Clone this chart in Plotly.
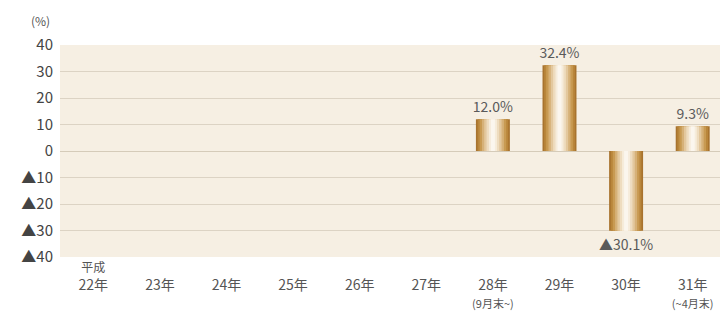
import plotly.graph_objects as go

categories = ["22", "23", "24", "25", "26", "27", "28", "29", "30", "31"]
tick_labels = ["<span style='font-size:12px'>平成</span><br>22年<br> ", " <br>23年<br> ", " <br>24年<br> ", " <br>25年<br> ",
               " <br>26年<br> ", " <br>27年<br> ",
               " <br>28年<br><span style='font-size:11px'>(9月末~)</span>",
               " <br>29年<br> ", " <br>30年<br> ",
               " <br>31年<br><span style='font-size:11px'>(~4月末)</span>"]
values = [None, None, None, None, None, None, 12.0, 32.4, -30.1, 9.3]
y_ticks = [40, 30, 20, 10, 0, -10, -20, -30, -40]
y_tick_text = ["40", "30", "20", "10", "0", "▲10", "▲20", "▲30", "▲40"]

labels = [None if v is None else (f"▲{abs(v):.1f}%" if v < 0 else f"{v:.1f}%") for v in values]

# gradient simulated with nested bars (outer -> inner)
layers = [
    (0.51, "#a8732e"),
    (0.46, "#b9863b"),
    (0.40, "#c89a52"),
    (0.33, "#d6b178"),
    (0.26, "#e3c89e"),
    (0.19, "#eedcbf"),
    (0.12, "#f6ecdb"),
    (0.06, "#fbf6ee"),
]

fig = go.Figure()
for i, (w, c) in enumerate(layers):
    fig.add_trace(go.Bar(
        x=categories, y=values, width=w,
        marker=dict(color=c, line=dict(width=0)),
        text=labels if i == 0 else None,
        textposition="outside" if i == 0 else "none",
        textfont=dict(size=14, color="#5a5a5a"),
        constraintext="none",
        cliponaxis=False,
        hoverinfo="skip",
        showlegend=False,
    ))

# page body has an 8px margin, so the figure is sized to fit the 728x316 window
fig.update_layout(
    width=720, height=308,
    barmode="overlay",
    margin=dict(l=52, r=2, t=37, b=59),
    paper_bgcolor="white",
    plot_bgcolor="#f6efe3",
    font=dict(family="Noto Sans CJK JP, Noto Sans, sans-serif", color="#555555", size=14),
    xaxis=dict(
        type="category", automargin=False,
        tickmode="array", tickvals=categories, ticktext=tick_labels,
        tickfont=dict(size=14, color="#555555"),
        showgrid=False, zeroline=False, showline=False, ticks="",
    ),
    yaxis=dict(
        range=[-40, 40], automargin=False,
        tickmode="array", tickvals=y_ticks, ticktext=y_tick_text,
        tickfont=dict(size=15, color="#444444"),
        ticklabelstandoff=6,
        showgrid=True, gridcolor="#dcd3c4", gridwidth=1,
        zeroline=True, zerolinecolor="#d5cbb9", zerolinewidth=1,
        showline=False, ticks="",
    ),
    annotations=[dict(
        text="(%)", xref="paper", yref="paper", x=-0.03, y=1.0, yshift=14,
        xanchor="center", yanchor="bottom", showarrow=False,
        font=dict(size=12, color="#555555"),
    )],
)

fig.write_html("out.html")
